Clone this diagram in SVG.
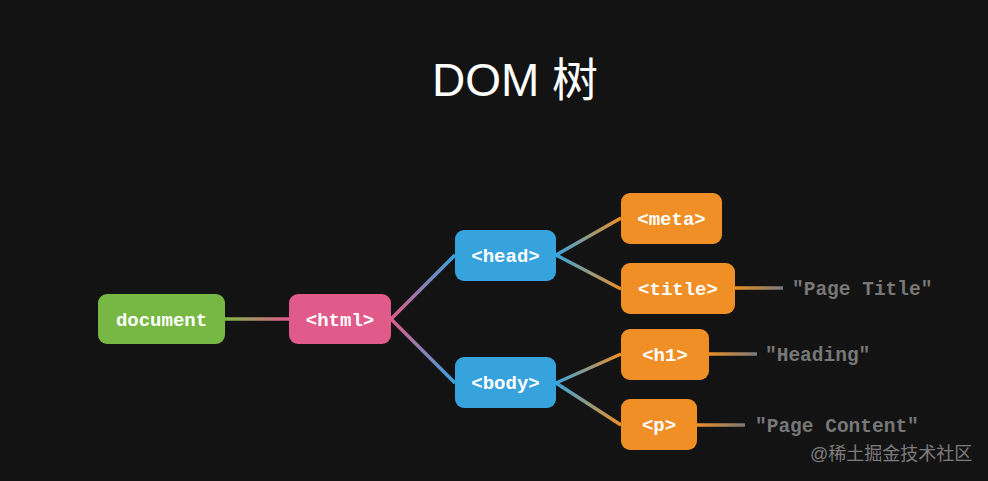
<svg xmlns="http://www.w3.org/2000/svg" width="988" height="481" viewBox="0 0 988 481">
<style>
.nl{font-family:"Liberation Mono","DejaVu Sans Mono",monospace;font-weight:bold;font-size:19px;fill:#ffffff;text-anchor:middle}
.tx{font-family:"Liberation Mono","DejaVu Sans Mono",monospace;font-weight:bold;font-size:19.5px;fill:#777777}
.c{fill:none;stroke-width:3.5;stroke-linecap:butt}
</style>
<defs>
<linearGradient id="gDH" gradientUnits="userSpaceOnUse" x1="225" y1="0" x2="289" y2="0"><stop offset="0" stop-color="#7cb84a"/><stop offset="1" stop-color="#e05a8a"/></linearGradient>
<linearGradient id="gHHd" gradientUnits="userSpaceOnUse" x1="391" y1="319" x2="455" y2="255"><stop offset="0" stop-color="#e05a8a"/><stop offset="1" stop-color="#38a4de"/></linearGradient>
<linearGradient id="gHB" gradientUnits="userSpaceOnUse" x1="391" y1="319" x2="455" y2="383"><stop offset="0" stop-color="#e05a8a"/><stop offset="1" stop-color="#38a4de"/></linearGradient>
<linearGradient id="gM" gradientUnits="userSpaceOnUse" x1="556" y1="255" x2="621" y2="218"><stop offset="0" stop-color="#38a4de"/><stop offset="1" stop-color="#ef8f25"/></linearGradient>
<linearGradient id="gT" gradientUnits="userSpaceOnUse" x1="556" y1="255" x2="621" y2="289"><stop offset="0" stop-color="#38a4de"/><stop offset="1" stop-color="#ef8f25"/></linearGradient>
<linearGradient id="gH1" gradientUnits="userSpaceOnUse" x1="556" y1="383" x2="621" y2="354"><stop offset="0" stop-color="#38a4de"/><stop offset="1" stop-color="#ef8f25"/></linearGradient>
<linearGradient id="gP" gradientUnits="userSpaceOnUse" x1="556" y1="383" x2="621" y2="425"><stop offset="0" stop-color="#38a4de"/><stop offset="1" stop-color="#ef8f25"/></linearGradient>
<linearGradient id="gTt" gradientUnits="userSpaceOnUse" x1="735" y1="0" x2="783" y2="0"><stop offset="0" stop-color="#ef8f25"/><stop offset="1" stop-color="#7a7a7a"/></linearGradient>
<linearGradient id="gHt" gradientUnits="userSpaceOnUse" x1="709" y1="0" x2="757" y2="0"><stop offset="0" stop-color="#ef8f25"/><stop offset="1" stop-color="#7a7a7a"/></linearGradient>
<linearGradient id="gPt" gradientUnits="userSpaceOnUse" x1="697" y1="0" x2="745" y2="0"><stop offset="0" stop-color="#ef8f25"/><stop offset="1" stop-color="#7a7a7a"/></linearGradient>
</defs>
<rect width="988" height="481" fill="#131313"/>
<text x="515" y="96" font-family="'Liberation Sans','Noto Sans CJK SC',sans-serif" font-size="46" fill="#ffffff" text-anchor="middle">DOM 树</text>
<g id="connectors">
<line class="c" x1="225" y1="319" x2="289" y2="319" stroke="url(#gDH)"/>
<line class="c" x1="391" y1="319" x2="455" y2="255" stroke="url(#gHHd)"/>
<line class="c" x1="391" y1="319" x2="455" y2="383" stroke="url(#gHB)"/>
<line class="c" x1="556" y1="255" x2="621" y2="218" stroke="url(#gM)"/>
<line class="c" x1="556" y1="255" x2="621" y2="289" stroke="url(#gT)"/>
<line class="c" x1="556" y1="383" x2="621" y2="354" stroke="url(#gH1)"/>
<line class="c" x1="556" y1="383" x2="621" y2="425" stroke="url(#gP)"/>
<line class="c" x1="735" y1="288" x2="783" y2="288" stroke="url(#gTt)"/>
<line class="c" x1="709" y1="354" x2="757" y2="354" stroke="url(#gHt)"/>
<line class="c" x1="697" y1="425" x2="745" y2="425" stroke="url(#gPt)"/>
</g>
<g id="document"><rect x="98" y="294" width="127" height="50" rx="9" fill="#76b843"/><text class="nl" x="161.5" y="325.5">document</text></g>
<g id="html"><rect x="289" y="294" width="102" height="50" rx="9" fill="#e05a8a"/><text class="nl" x="340" y="325.5">&lt;html&gt;</text></g>
<g id="head"><rect x="455" y="230" width="101" height="51" rx="9" fill="#37a3dd"/><text class="nl" x="505.5" y="261.5">&lt;head&gt;</text></g>
<g id="body"><rect x="455" y="357" width="101" height="51" rx="9" fill="#37a3dd"/><text class="nl" x="505.5" y="388.5">&lt;body&gt;</text></g>
<g id="meta"><rect x="621" y="193" width="101" height="51" rx="9" fill="#ef8f25"/><text class="nl" x="671.5" y="224.5">&lt;meta&gt;</text></g>
<g id="title"><rect x="621" y="263" width="114" height="51" rx="9" fill="#ef8f25"/><text class="nl" x="678" y="294.5">&lt;title&gt;</text></g>
<g id="h1"><rect x="621" y="329" width="88" height="51" rx="9" fill="#ef8f25"/><text class="nl" x="665" y="360.5">&lt;h1&gt;</text></g>
<g id="p"><rect x="621" y="399" width="76" height="51" rx="9" fill="#ef8f25"/><text class="nl" x="659" y="430.5">&lt;p&gt;</text></g>
<g id="t-title"><text class="tx" x="792" y="295">"Page Title"</text></g>
<g id="t-heading"><text class="tx" x="765" y="361">"Heading"</text></g>
<g id="t-content"><text class="tx" x="755" y="432">"Page Content"</text></g>
<text x="810" y="460" font-family="'Liberation Sans','Noto Sans CJK SC',sans-serif" font-size="18" fill="#7d7d7d">@稀土掘金技术社区</text>
</svg>
